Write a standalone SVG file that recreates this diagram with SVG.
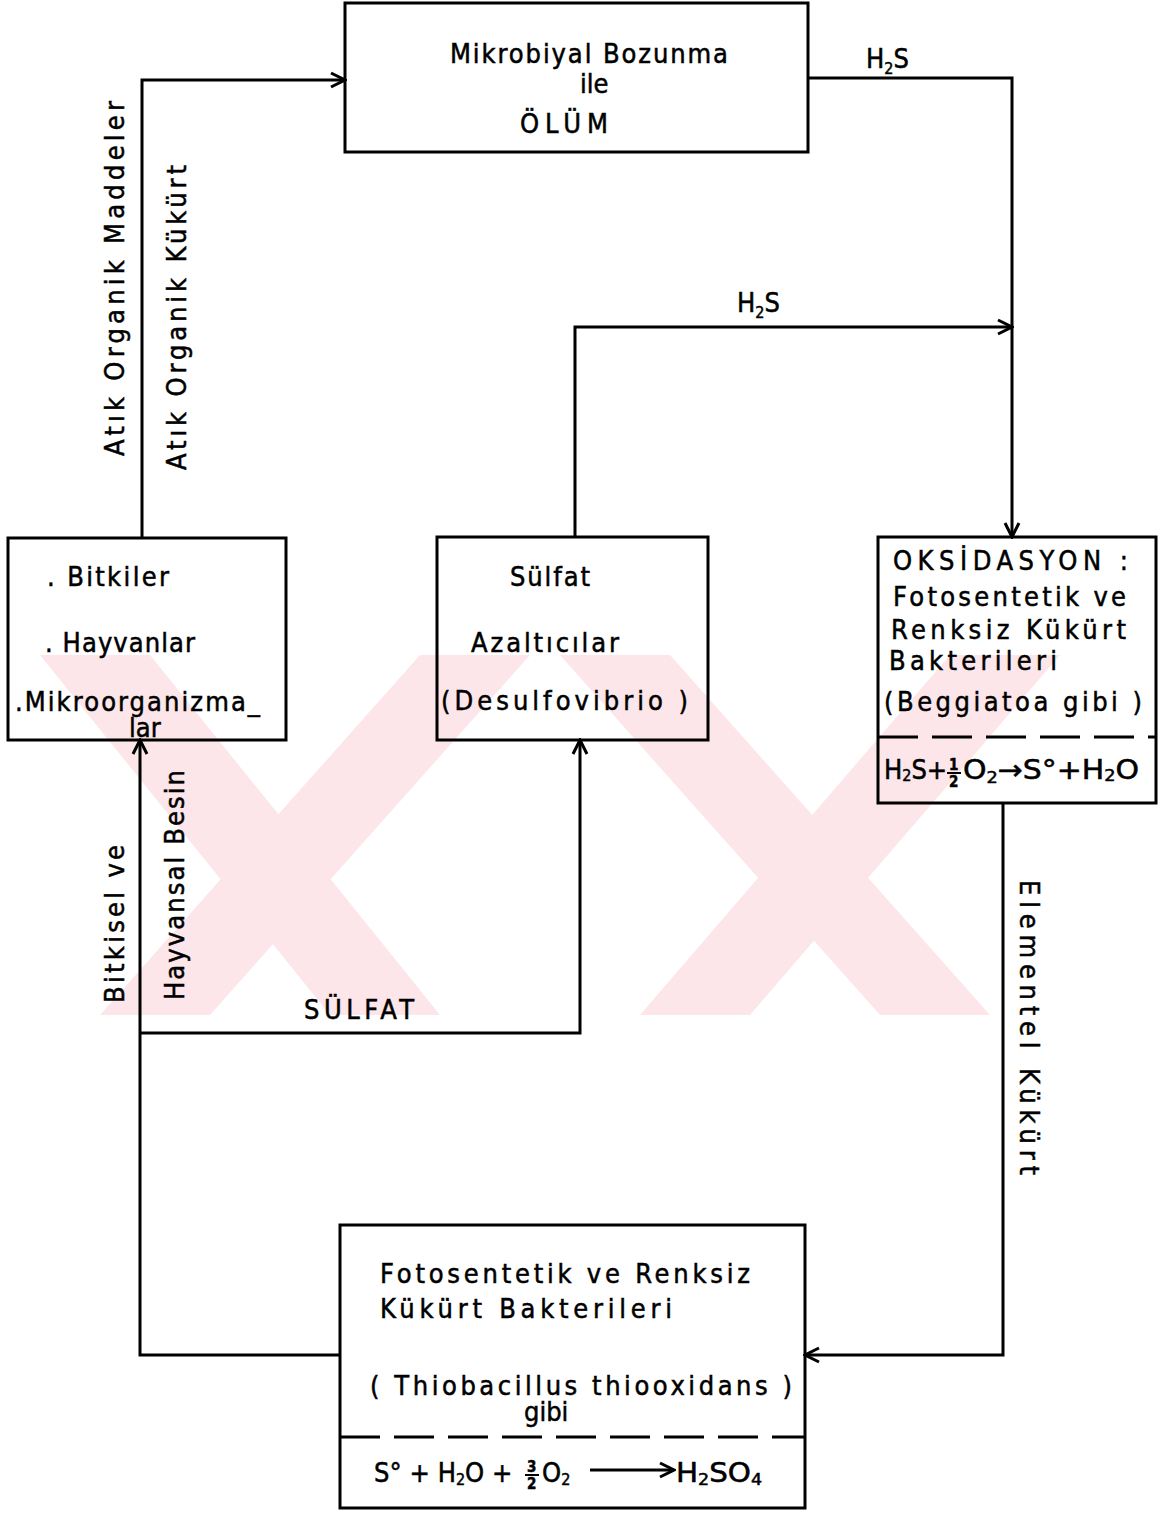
<svg xmlns="http://www.w3.org/2000/svg" width="1170" height="1514" viewBox="0 0 1170 1514">
<defs>
<marker id="arr" viewBox="0 0 20 20" refX="18" refY="10" markerWidth="20" markerHeight="20" markerUnits="userSpaceOnUse" orient="auto">
<path d="M4,3 L18,10 L4,17" fill="none" stroke="#000" stroke-width="3"/>
</marker>
</defs>
<style>
.box{fill:none;stroke:#000;stroke-width:3}
.ln{fill:none;stroke:#000;stroke-width:3}
.dash{stroke:#000;stroke-width:3;stroke-dasharray:40 14}
text{font-family:"DejaVu Sans Condensed","DejaVu Sans","Liberation Sans",sans-serif;fill:#000;font-size:27px;stroke:#000;stroke-width:0.5}
.sm{font-size:16px}
.fr{font-size:15px;font-weight:bold}
.wm{fill:#fce6e9}
</style>
<rect width="1170" height="1514" fill="#fff"/>
<g id="watermark">
<polygon class="wm" points="40,655 150,655 440,1015 330,1015"/>
<polygon class="wm" points="420,655 530,655 210,1015 100,1015"/>
<polygon class="wm" points="560,655 670,655 990,1015 880,1015"/>
<polygon class="wm" points="950,655 1060,655 750,1015 640,1015"/>
</g>
<g id="connectors">
<polyline class="ln" points="142,538 142,80 345,80" marker-end="url(#arr)"/>
<polyline class="ln" points="808,78 1012,78 1012,537" marker-end="url(#arr)"/>
<polyline class="ln" points="575,537 575,327 1012,327" marker-end="url(#arr)"/>
<polyline class="ln" points="1003,803 1003,1355 805,1355" marker-end="url(#arr)"/>
<polyline class="ln" points="340,1355 140,1355 140,740" marker-end="url(#arr)"/>
<polyline class="ln" points="140,1033 580,1033 580,740" marker-end="url(#arr)"/>
<text x="866" y="68">H<tspan class="sm" dy="6">2</tspan><tspan dy="-6">S</tspan></text>
<text x="737" y="312">H<tspan class="sm" dy="6">2</tspan><tspan dy="-6">S</tspan></text>
<text x="304" y="1019" textLength="110" lengthAdjust="spacing">SÜLFAT</text>
<text transform="translate(124,456) rotate(-90)" textLength="355" lengthAdjust="spacing">Atık Organik  Maddeler</text>
<text transform="translate(186,470) rotate(-90)" textLength="305" lengthAdjust="spacing">Atık Organik Kükürt</text>
<text transform="translate(124,1003) rotate(-90)" textLength="158" lengthAdjust="spacing">Bitkisel  ve</text>
<text transform="translate(184,1000) rotate(-90)" textLength="230" lengthAdjust="spacing">Hayvansal Besin</text>
<text transform="translate(1020,880) rotate(90)" textLength="295" lengthAdjust="spacing">Elementel   Kükürt</text>
</g>
<g id="node-olum">
<rect class="box" x="345" y="3" width="463" height="149"/>
<text x="450" y="63" textLength="278" lengthAdjust="spacing">Mikrobiyal Bozunma</text>
<text x="580" y="93">ile</text>
<text x="520" y="133" textLength="88" lengthAdjust="spacing">ÖLÜM</text>
</g>
<g id="node-canlilar">
<rect class="box" x="8" y="538" width="278" height="202"/>
<text x="47" y="586" textLength="122" lengthAdjust="spacing">. Bitkiler</text>
<text x="45" y="652" textLength="150" lengthAdjust="spacing">. Hayvanlar</text>
<text x="15" y="711" textLength="245" lengthAdjust="spacing">.Mikroorganizma_</text>
<text x="129" y="737" font-size="20">lar</text>
</g>
<g id="node-sulfat-azalticilar">
<rect class="box" x="437" y="537" width="271" height="203"/>
<text x="510" y="586" textLength="80" lengthAdjust="spacing">Sülfat</text>
<text x="471" y="652" textLength="148" lengthAdjust="spacing">Azaltıcılar</text>
<text x="441" y="710" textLength="247" lengthAdjust="spacing">(Desulfovibrio     )</text>
</g>
<g id="node-oksidasyon">
<rect class="box" x="878" y="537" width="278" height="266"/>
<line class="dash" x1="878" y1="737" x2="1156" y2="737"/>
<text x="893" y="570" textLength="235" lengthAdjust="spacing">OKSİDASYON :</text>
<text x="893" y="606" textLength="233" lengthAdjust="spacing">Fotosentetik  ve</text>
<text x="891" y="639" textLength="235" lengthAdjust="spacing">Renksiz  Kükürt</text>
<text x="889" y="670" textLength="168" lengthAdjust="spacing">Bakterileri</text>
<text x="884" y="711" textLength="258" lengthAdjust="spacing">(Beggiatoa  gibi )</text>
<text x="884" y="779" font-size="28">H<tspan class="sm" dy="2">2</tspan><tspan dy="-2">S+</tspan></text>
<text x="949" y="770" class="fr">1</text>
<line x1="947" y1="773" x2="961" y2="773" stroke="#000" stroke-width="2"/>
<text x="949" y="787" class="fr">2</text>
<text x="963" y="779" font-size="28" textLength="176" lengthAdjust="spacingAndGlyphs">O<tspan class="sm" dy="4">2</tspan><tspan dy="-4">→S°+H</tspan><tspan class="sm" dy="2">2</tspan><tspan dy="-2">O</tspan></text>
</g>
<g id="node-thiobacillus">
<rect class="box" x="340" y="1225" width="465" height="283"/>
<line class="dash" x1="340" y1="1437" x2="805" y2="1437"/>
<text x="380" y="1283" textLength="370" lengthAdjust="spacing">Fotosentetik ve Renksiz</text>
<text x="380" y="1318" textLength="292" lengthAdjust="spacing">Kükürt  Bakterileri</text>
<text x="370" y="1395" textLength="422" lengthAdjust="spacing">( Thiobacillus    thiooxidans )</text>
<text x="524" y="1421" font-size="24">gibi</text>
<text x="374" y="1482" font-size="28">S°<tspan dx="8">+ H</tspan><tspan class="sm" dy="3">2</tspan><tspan dy="-3">O +</tspan></text>
<text x="527" y="1472" class="fr">3</text>
<line x1="525" y1="1475" x2="539" y2="1475" stroke="#000" stroke-width="2"/>
<text x="527" y="1489" class="fr">2</text>
<text x="542" y="1482" font-size="28">O<tspan class="sm" dy="3">2</tspan></text>
<line class="ln" x1="590" y1="1470" x2="674" y2="1470" marker-end="url(#arr)"/>
<text x="676" y="1482" font-size="28" textLength="86" lengthAdjust="spacingAndGlyphs">H<tspan class="sm" dy="3">2</tspan><tspan dy="-3">SO</tspan><tspan class="sm" dy="3">4</tspan></text>
</g>
</svg>
